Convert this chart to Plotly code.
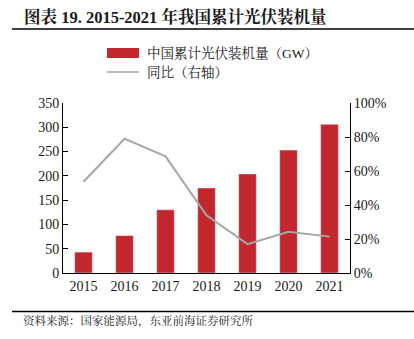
import plotly.graph_objects as go

years = ["2015", "2016", "2017", "2018", "2019", "2020", "2021"]
capacity_gw = [43, 77, 130, 175, 204, 253, 306]
yoy = [0.537, 0.79, 0.686, 0.34, 0.17, 0.243, 0.214]

title = "图表 19. 2015-2021 年我国累计光伏装机量"
bar_name = "中国累计光伏装机量（GW）"
line_name = "同比（右轴）"
source = "资料来源：国家能源局，东亚前海证券研究所"

W, H = 414, 339
L, R, T, B = 63, 350, 103, 273
pw, ph = R - L, B - T

def px(x):
    return (x - L) / pw

def py(y):
    return (B - y) / ph

FONT = "Liberation Serif, 'Noto Serif CJK SC', 'Noto Sans CJK SC', serif"
RED = "#C1272D"
GRAY = "#A6A6A6"
TXT = "#1a1a1a"

fig = go.Figure()
fig.add_trace(go.Bar(x=years, y=capacity_gw, marker_color=RED, width=0.43,
                     name=bar_name, showlegend=False))
fig.add_trace(go.Scatter(x=years, y=yoy, mode="lines", yaxis="y2",
                         line=dict(color=GRAY, width=2), name=line_name,
                         showlegend=False))

shapes = [
    dict(type="line", xref="paper", yref="paper", x0=px(12), x1=px(414),
         y0=py(29), y1=py(29), line=dict(color="black", width=1.5)),
    dict(type="line", xref="paper", yref="paper", x0=px(12), x1=px(414),
         y0=py(311.5), y1=py(311.5), line=dict(color="black", width=1.5)),
    dict(type="rect", xref="paper", yref="paper", x0=px(107), x1=px(139),
         y0=py(58), y1=py(48), fillcolor=RED, line=dict(width=0)),
    dict(type="line", xref="paper", yref="paper", x0=px(107), x1=px(139),
         y0=py(72), y1=py(72), line=dict(color=GRAY, width=1.5)),
]
annotations = [
    dict(text="<b>" + title + "</b>", xref="paper", yref="paper", x=px(22), y=py(17),
         xanchor="left", yanchor="middle", showarrow=False,
         font=dict(size=16.5, color=TXT, family=FONT)),
    dict(text=bar_name, xref="paper", yref="paper", x=px(145), y=py(53),
         xanchor="left", yanchor="middle", showarrow=False,
         font=dict(size=13.5, color=TXT, family=FONT)),
    dict(text=line_name, xref="paper", yref="paper", x=px(145), y=py(72),
         xanchor="left", yanchor="middle", showarrow=False,
         font=dict(size=13.5, color=TXT, family=FONT)),
    dict(text=source, xref="paper", yref="paper", x=px(21), y=py(321),
         xanchor="left", yanchor="middle", showarrow=False,
         font=dict(size=11.5, color=TXT, family=FONT)),
]

axis_common = dict(showgrid=False, zeroline=False, showline=True, linecolor="black",
                   linewidth=1, ticks="inside", ticklen=5, tickcolor="black",
                   tickfont=dict(size=14, color=TXT, family=FONT))

fig.update_layout(
    width=W, height=H, margin=dict(l=L, r=W - R, t=T, b=H - B),
    paper_bgcolor="white", plot_bgcolor="white",
    font=dict(family=FONT, color=TXT),
    bargap=0.57,
    xaxis=dict(showgrid=False, zeroline=False, showline=True, linecolor="black",
               linewidth=1, ticks="", tickfont=dict(size=14, color=TXT, family=FONT)),
    yaxis=dict(range=[0, 350], dtick=50, **axis_common),
    yaxis2=dict(range=[0, 1], dtick=0.2, tickformat=".0%", overlaying="y", side="right",
                **axis_common),
    shapes=shapes, annotations=annotations, showlegend=False,
)

fig.write_html("out.html")
